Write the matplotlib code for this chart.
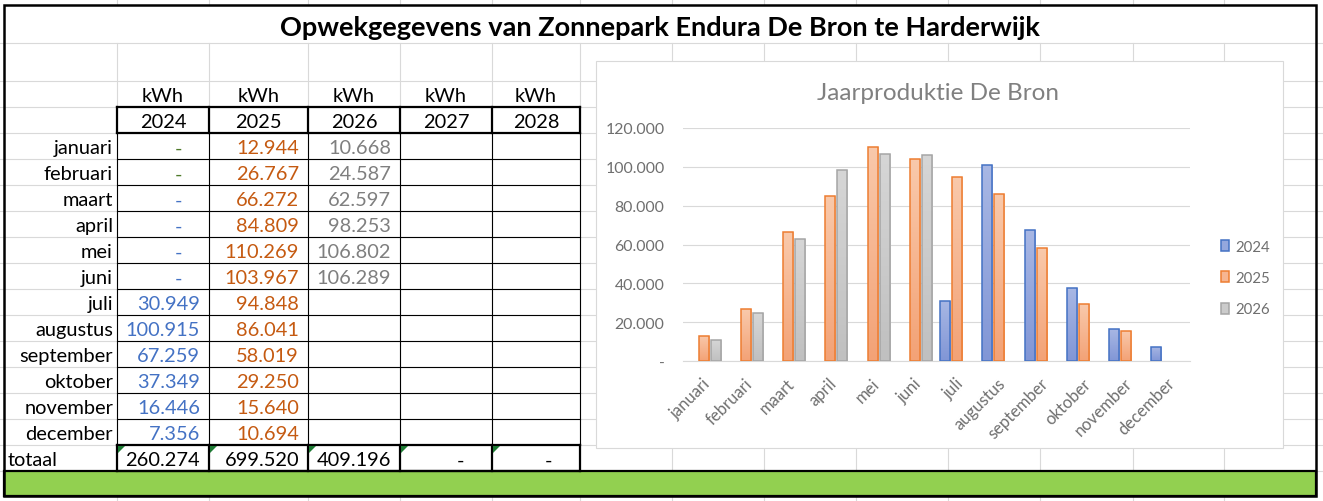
import numpy as np
import matplotlib
matplotlib.use("Agg")
import matplotlib.pyplot as plt
from matplotlib.patches import Rectangle, Polygon, Patch
from matplotlib.transforms import ScaledTranslation

plt.rcParams['font.family'] = ['Lato', 'DejaVu Sans']

months = ['januari', 'februari', 'maart', 'april', 'mei', 'juni', 'juli',
          'augustus', 'september', 'oktober', 'november', 'december']
years = ['2024', '2025', '2026', '2027', '2028']
kwh_2024 = [0, 0, 0, 0, 0, 0, 30949, 100915, 67259, 37349, 16446, 7356]
kwh_2025 = [12944, 26767, 66272, 84809, 110269, 103967, 94848, 86041,
            58019, 29250, 15640, 10694]
kwh_2026 = [10668, 24587, 62597, 98253, 106802, 106289]
kwh_2027 = []
kwh_2028 = []
columns = [kwh_2024, kwh_2025, kwh_2026, kwh_2027, kwh_2028]

# the chart in the sheet stops at november for 2025
chart_2024 = kwh_2024
chart_2025 = kwh_2025[:11]
chart_2026 = kwh_2026

title = 'Opwekgegevens van Zonnepark Endura De Bron te Harderwijk'
chart_title = 'Jaarproduktie De Bron'

blue, orange, grey = '#4472c4', '#ed7d31', '#a5a5a5'
txt_cols = ['#4472c4', '#c55a11', '#7f7f7f', 'black', 'black']
dash_green = '#4e7a2a'


def nl(v):
    return f'{v:,}'.replace(',', '.')


fig = plt.figure(figsize=(13.23, 5.02), dpi=100)
bg = fig.add_axes([0, 0, 1, 1])
bg.set_xlim(0, 1323)
bg.set_ylim(502, 0)
bg.axis('off')

# excel grid
gc = '#d9d9d9'
col_x = [117, 209, 308, 400, 492, 580, 672, 764, 856, 948, 1040, 1133, 1224]
row_y = [44, 82, 108] + [134 + 26 * i for i in range(14)]
for x in col_x:
    bg.plot([x, x], [0, 6], color=gc, lw=0.8, zorder=1)
    bg.plot([x, x], [44, 502], color=gc, lw=0.8, zorder=1)
for y in row_y:
    bg.plot([0, 1323], [y, y], color=gc, lw=0.8, zorder=1)

bg.add_patch(Rectangle((596, 62), 687, 387, facecolor='white',
                       edgecolor=gc, lw=0.8, zorder=2))
bg.add_patch(Rectangle((4, 472), 1312, 25, facecolor='#92d050',
                       edgecolor='black', lw=1.6, zorder=3))
bg.add_patch(Rectangle((4, 6), 1312, 491, fill=False,
                       edgecolor='black', lw=1.8, zorder=5))

t = bg.text(660, 28, title, ha='center', va='center', fontsize=22,
            fontweight='bold', zorder=6)
fig.canvas.draw()
w = t.get_window_extent().width
t.set_fontsize(22 * 760 / w)

# table
edges = col_x[:6]
top, rh = 134, 26
for x in edges:
    bg.plot([x, x], [top, top + 12 * rh], color='black', lw=0.8, zorder=4)
    bg.plot([x, x], [108, 134], color='black', lw=1.6, zorder=4)
    bg.plot([x, x], [446, 472], color='black', lw=1.6, zorder=4)
for i in range(1, 12):
    y = top + i * rh
    bg.plot([117, 580], [y, y], color='black', lw=0.8, zorder=4)
for y in [108, 134, 446, 472]:
    bg.plot([117, 580], [y, y], color='black', lw=1.6, zorder=4)

fs = 14.4
for j, yr in enumerate(years):
    cx = (edges[j] + edges[j + 1]) / 2
    bg.text(cx, 97, 'kWh', ha='center', va='center', fontsize=fs, zorder=6)
    bg.text(cx, 123, yr, ha='center', va='center', fontsize=fs, zorder=6)

for i, m in enumerate(months):
    cy = top + i * rh + rh / 2 + 2
    bg.text(113, cy, m, ha='right', va='center', fontsize=fs, zorder=6)
    for j, col in enumerate(columns):
        if i >= len(col):
            continue
        right = edges[j + 1]
        v = col[i]
        if v == 0:
            c = dash_green if i < 2 else txt_cols[j]
            bg.text(right - 31, cy, '-', ha='center', va='center',
                    fontsize=fs, color=c, zorder=6)
        else:
            bg.text(right - 9, cy, nl(v), ha='right', va='center',
                    fontsize=fs, color=txt_cols[j], zorder=6)

cy = 461
bg.text(8, cy, 'totaal', ha='left', va='center', fontsize=fs, zorder=6)
for j, col in enumerate(columns):
    right = edges[j + 1]
    s = sum(col)
    if s:
        bg.text(right - 9, cy, nl(s), ha='right', va='center', fontsize=fs,
                zorder=6)
    else:
        bg.text(right - 31, cy, '-', ha='center', va='center', fontsize=fs,
                zorder=6)
    x0 = edges[j] + 1
    bg.add_patch(Polygon([(x0, 447), (x0 + 7, 447), (x0, 454)],
                         closed=True, color='#1e7b34', lw=0, zorder=6))

# chart
fig.text(938 / 1323, 1 - 93 / 502, chart_title, ha='center', va='center',
         fontsize=17.5, color='#808080')
ax = fig.add_axes([682.5 / 1323, 1 - 362 / 502, 507 / 1323, 233 / 502])
ax.set_facecolor('none')

x = np.arange(len(months))
bw, step = 0.237, 0.284
series = [
    (chart_2024, blue, ('#a8b7e4', '#8196d6'), '2024'),
    (chart_2025, orange, ('#f9c9ab', '#f3a276'), '2025'),
    (chart_2026, grey, ('#d6d6d6', '#c0c0c0'), '2026'),
]
handles = []
for k, (vals, edge, (ctop, cbot), lab) in enumerate(series):
    idx = [i for i, v in enumerate(vals) if v > 0]
    hv = [vals[i] for i in idx]
    bars = ax.bar(x[idx] + (k - 1) * step, hv, bw, facecolor='none',
                  edgecolor=edge, lw=1.1, zorder=3)
    c0 = np.array(matplotlib.colors.to_rgb(ctop))
    c1 = np.array(matplotlib.colors.to_rgb(cbot))
    g = np.linspace(0, 1, 64)[:, None, None]
    img = c0 * (1 - g) + c1 * g
    for p in bars.patches:
        x0, y0, wdt, hgt = p.get_x(), p.get_y(), p.get_width(), p.get_height()
        im = ax.imshow(img, extent=[x0, x0 + wdt, y0, y0 + hgt],
                       origin='upper', aspect='auto', zorder=2,
                       interpolation='bilinear')
        im.set_clip_path(p)
    handles.append(Patch(facecolor=(c0 + c1) / 2, edgecolor=edge, lw=1.1,
                         label=lab))

ax.set_xlim(-0.5, 11.5)
ax.set_ylim(0, 120000)
ax.set_yticks(range(0, 120001, 20000))
ax.set_yticklabels(['-'] + [nl(v) for v in range(20000, 120001, 20000)])
ax.set_xticks(x)
ax.set_xticklabels(months, rotation=45, ha='right', va='center',
                   rotation_mode='anchor')
ax.tick_params(length=0, labelsize=11.4, colors='#6f6f6f')
ax.tick_params(axis='y', pad=13)
ax.tick_params(axis='x', labelsize=12, pad=14)
off = ScaledTranslation(4 / 100, 0, fig.dpi_scale_trans)
for lbl in ax.get_xticklabels():
    lbl.set_transform(lbl.get_transform() + off)
ax.grid(axis='y', color=gc, lw=0.8, zorder=0)
for s in ['top', 'right', 'left']:
    ax.spines[s].set_visible(False)
ax.spines['bottom'].set_color(gc)
ax.spines['bottom'].set_linewidth(0.8)

leg = ax.legend(handles=handles, loc='center left',
                bbox_to_anchor=(1207 / 1323, 1 - 279 / 502),
                bbox_transform=fig.transFigure, frameon=False,
                fontsize=10.8, handlelength=0.55, handleheight=0.75,
                handletextpad=0.45, labelspacing=1.15)
for txt in leg.get_texts():
    txt.set_color('#6f6f6f')

fig.savefig('out.png', dpi=100)
